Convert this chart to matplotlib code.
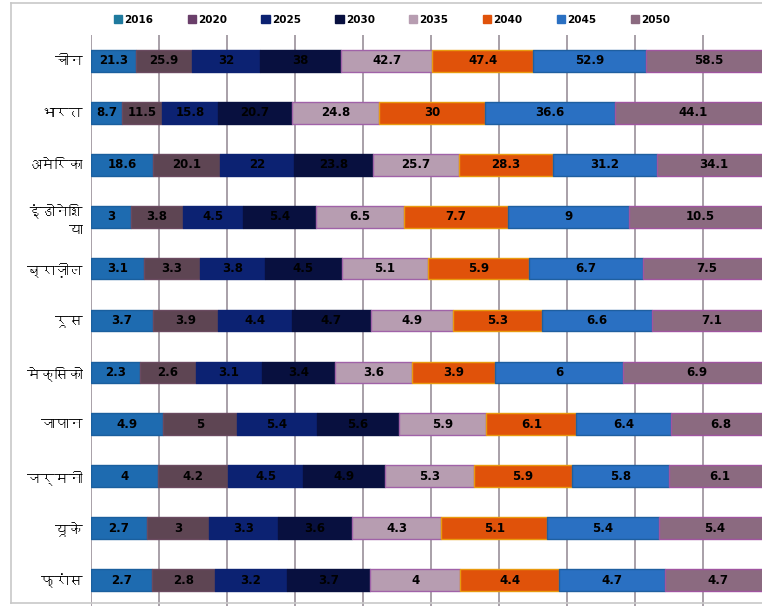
import matplotlib
matplotlib.use("Agg")
import matplotlib.pyplot as plt
from matplotlib import font_manager
from matplotlib.ft2font import FT2Font
from matplotlib.lines import Line2D
import numpy as np

# GDP (PPP, trillion $) by country and year
countries = ["चीन", "भारत", "अमेरिका", "इंडोनेशि\nया", "ब्राज़ील", "रूस",
             "मेक्सिको", "जापान", "जर्मनी", "यूके", "फ्रांस"]
years = ["2016", "2020", "2025", "2030", "2035", "2040", "2045", "2050"]

v2016 = [21.3, 8.7, 18.6, 3, 3.1, 3.7, 2.3, 4.9, 4, 2.7, 2.7]
v2020 = [25.9, 11.5, 20.1, 3.8, 3.3, 3.9, 2.6, 5, 4.2, 3, 2.8]
v2025 = [32.0, 15.8, 22.0, 4.5, 3.8, 4.4, 3.1, 5.4, 4.5, 3.3, 3.2]
v2030 = [38, 20.7, 23.8, 5.4, 4.5, 4.7, 3.4, 5.6, 4.9, 3.6, 3.7]
v2035 = [42.7, 24.8, 25.7, 6.5, 5.1, 4.9, 3.6, 5.9, 5.3, 4.3, 4]
v2040 = [47.4, 30, 28.3, 7.7, 5.9, 5.3, 3.9, 6.1, 5.9, 5.1, 4.4]
v2045 = [52.9, 36.6, 31.2, 9, 6.7, 6.6, 6, 6.4, 5.8, 5.4, 4.7]
v2050 = [58.5, 44.1, 34.1, 10.5, 7.5, 7.1, 6.9, 6.8, 6.1, 5.4, 4.7]

series = [v2016, v2020, v2025, v2030, v2035, v2040, v2045, v2050]
colors = ["#1E6BB0", "#5E4553", "#0C2272", "#08103F",
          "#B79DB1", "#E0520A", "#2A70C2", "#8B6A80"]
edges = ["#1A5F9E", "#6A4A60", "#0C2272", "#08103F",
         "#A062A8", "#E89A10", "#1F5FA0", "#A055A0"]
legend_colors = ["#1F7A9E", "#6A3F6A", "#0C2272", "#08103F",
                 "#B79DB1", "#E0520A", "#2A70C2", "#8B6A80"]


def family_with(codepoint):
    for f in font_manager.fontManager.ttflist:
        try:
            if codepoint in FT2Font(f.fname).get_charmap():
                return f.name
        except Exception:
            continue
    return None


deva = family_with(0x0915)
fams = ([deva] if deva else []) + ["DejaVu Sans"]
plt.rcParams["font.family"] = fams

fig = plt.figure(figsize=(7.62, 6.06), dpi=100)
W, H = 762, 606
ax = fig.add_axes([91 / W, 0, 680 / W, (606 - 35) / H])

data = np.array(series, dtype=float)
pct = data / data.sum(axis=0) * 100
y = np.arange(len(countries))
left = np.zeros(len(countries))
for i, yr in enumerate(years):
    ax.barh(y, pct[i], left=left, height=0.42, color=colors[i],
            edgecolor=edges[i], linewidth=1.0, zorder=3)
    for j in range(len(countries)):
        ax.text(left[j] + pct[i][j] / 2, y[j], f"{data[i][j]:g}",
                ha="center", va="center", fontsize=8.5, fontweight="bold",
                color="black", zorder=4, family="DejaVu Sans")
    left += pct[i]

ax.set_xlim(0, 100)
ax.set_ylim(len(countries) - 0.5, -0.5)
ax.set_xticks(np.arange(0, 101, 10))
ax.grid(axis="x", color="#A8A0A8", linewidth=1.4, zorder=0)
ax.set_axisbelow(True)
ax.tick_params(axis="x", length=0, labelbottom=False, labeltop=False)
ax.tick_params(axis="y", length=0, pad=6)
ax.set_yticks(y)
ax.set_yticklabels(countries, fontsize=10, fontweight="bold",
                   linespacing=1.6)
for s in ax.spines.values():
    s.set_visible(False)

# chart frame
for xs, ys in [((11, 11), (3, 603)), ((11, W), (3, 3)), ((11, W), (603, 603))]:
    fig.add_artist(Line2D([x / W for x in xs], [1 - v / H for v in ys],
                          color="#C8C8C8", linewidth=1.2,
                          transform=fig.transFigure))

handles = [plt.Rectangle((0, 0), 1, 1, color=c) for c in legend_colors]
fig.legend(handles, years, loc="center", ncol=8,
           bbox_to_anchor=(392 / W, 1 - 20 / H), frameon=False,
           prop={"size": 7.5, "weight": "bold", "family": "DejaVu Sans"},
           handlelength=0.8, handleheight=0.8, handletextpad=0.2,
           columnspacing=3.3)

fig.savefig("out.png", dpi=100)
